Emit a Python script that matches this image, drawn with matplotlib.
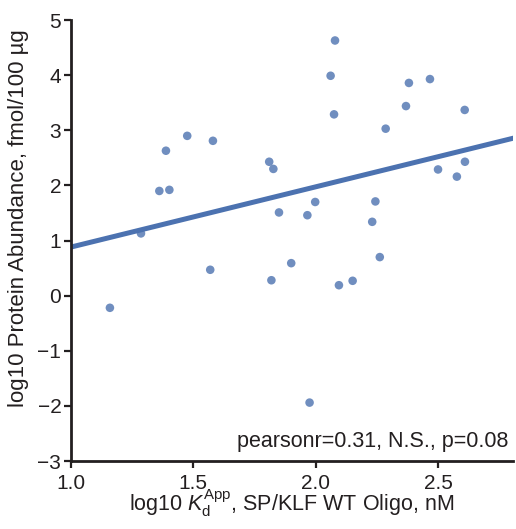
import numpy as np
import matplotlib
matplotlib.use("Agg")
import matplotlib.pyplot as plt

# ── Dados ─────────────────────────────────────────────────────
kd_log = [2.079, 2.061, 2.381, 2.467, 2.369, 2.075, 2.609, 2.286, 1.475, 1.580,
          1.388, 1.810, 1.827, 2.500, 2.610, 2.577, 1.361, 1.402,
          1.286, 1.850, 1.966, 1.998, 2.244, 2.231, 2.262, 1.569, 1.900,
          1.819, 2.095, 2.151, 1.159, 1.975]
abund_log = [4.63, 3.99, 3.86, 3.93, 3.44, 3.29, 3.37, 3.03, 2.90, 2.81,
             2.63, 2.43, 2.30, 2.29, 2.43, 2.16, 1.90, 1.92,
             1.13, 1.51, 1.46, 1.70, 1.71, 1.34, 0.70, 0.47, 0.59,
             0.28, 0.19, 0.27, -0.22, -1.94]
xticks = [1.0, 1.5, 2.0, 2.5]
yticks = [-3, -2, -1, 0, 1, 2, 3, 4, 5]
anotacao = "pearsonr=0.31, N.S., p=0.08"
# ─────────────────────────────────────────────────────────────

plt.rcParams["font.family"] = ["Liberation Sans", "DejaVu Sans"]
plt.rcParams["mathtext.fontset"] = "custom"
plt.rcParams["mathtext.rm"] = "Liberation Sans"
plt.rcParams["mathtext.it"] = "Liberation Sans:italic"
plt.rcParams["axes.unicode_minus"] = True

TXT = "#231f20"

x = np.array(kd_log)
y = np.array(abund_log)

fig = plt.figure(figsize=(5.16, 5.29), dpi=100)
ax = fig.add_axes([0.1376, 0.1285, 0.8564, 0.8335])

ax.scatter(x, y, s=38, color="#4C72B0", alpha=0.8, edgecolors="none", zorder=3)

# reta de regressão linear
coef = np.polyfit(x, y, 1)
xs = np.array([1.0, 2.81])
ax.plot(xs, np.polyval(coef, xs), color="#4C72B0", lw=3.6, zorder=2)

ax.set_xlim(1.0, 2.806)
ax.set_ylim(-3, 5)
ax.set_xticks(xticks)
ax.set_yticks(yticks)
ax.set_xticklabels([f"{t:.1f}" for t in xticks])

for s in ["top", "right"]:
    ax.spines[s].set_visible(False)
for s in ["left", "bottom"]:
    ax.spines[s].set_linewidth(2.0)
    ax.spines[s].set_color(TXT)
ax.tick_params(axis="both", direction="out", length=5, width=1.6, color=TXT,
               labelsize=15, labelcolor=TXT)
ax.tick_params(axis="x", pad=4)
ax.tick_params(axis="y", pad=2)

ax.set_xlabel(r"log10 $K_{\mathrm{d}}^{\mathrm{App}}$, SP/KLF WT Oligo, nM",
              fontsize=15.5, labelpad=-4, color=TXT)
ax.set_ylabel("log10 Protein Abundance, fmol/100 µg", fontsize=16, color=TXT)
ax.yaxis.set_label_coords(-0.095, 0.55)

ax.text(0.99, 0.02, anotacao, transform=ax.transAxes, ha="right", va="bottom",
        fontsize=15.5, color=TXT)

fig.savefig("out.png", dpi=100)
